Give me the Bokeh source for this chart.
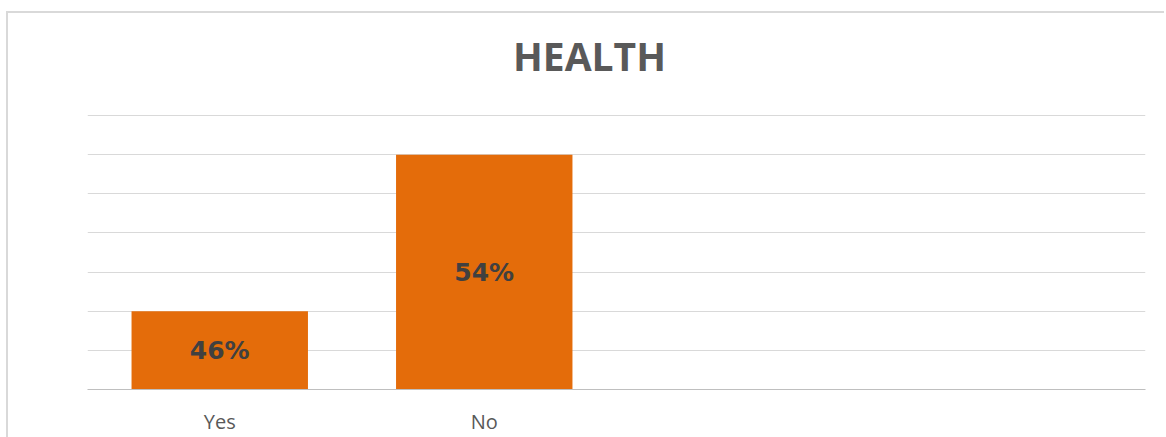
from bokeh.plotting import figure
from bokeh.models import FixedTicker, ColumnDataSource, FactorRange, Range1d, Label
from bokeh.embed import file_html
from bokeh.resources import INLINE
from bokeh.core.properties import value

categories = ["Yes", "No"]
shares = [0.46, 0.54]
labels = ["46%", "54%"]
placeholders = [" ", "  "]
y_ticks = [0.42, 0.44, 0.46, 0.48, 0.50, 0.52, 0.54, 0.56]
title_text = "HEALTH"

base = y_ticks[0]
px_per_unit = 274 / (y_ticks[-1] - y_ticks[0])   # vertical scale of the gridded area
frame_h = 369                                      # frame also holds the title area
src = ColumnDataSource(dict(
    cat=categories,
    top=shares,
    mid=[(base + v) / 2 for v in shares],
    lab=labels,
))

p = figure(
    x_range=FactorRange(*(categories + placeholders), range_padding=0),
    y_range=Range1d(base, base + frame_h / px_per_unit),
    frame_width=1058, frame_height=frame_h,
    output_backend="svg", toolbar_location=None,
    min_border_left=79, min_border_right=19, min_border_top=7, min_border_bottom=38,
    background_fill_color="white", border_fill_color="white",
    styles={"margin-left": "6px", "margin-top": "11px",
            "border-left": "2px solid #d9d9d9", "border-top": "2px solid #d9d9d9"},
)
p.outline_line_color = None

# chart title, drawn in the empty band above the gridlines
title = Label(x=1.898, y=base + (389 - 55) / px_per_unit, text=title_text,
              text_font="Open Sans", text_font_style="bold", text_font_size="39px",
              text_color="#595959", text_align="center", text_baseline="middle")
p.add_layout(title)

p.vbar(x="cat", top="top", bottom=base, width=0.667, source=src,
       fill_color="#E46C0A", line_color=None)
p.text(x="cat", y="mid", text="lab", source=src,
       text_font=value("DejaVu Sans"), text_font_style="bold",
       text_font_size="25px", text_color="#404040",
       text_align="center", text_baseline="middle")

p.yaxis.visible = False
p.ygrid.ticker = FixedTicker(ticks=y_ticks)
p.ygrid.grid_line_color = "#d9d9d9"
p.xgrid.grid_line_color = None

ax = p.xaxis[0]
ax.axis_line_color = "#bfbfbf"
ax.major_tick_line_color = None
ax.minor_tick_line_color = None
ax.major_label_text_font = "Open Sans"
ax.major_label_text_font_size = "20px"
ax.major_label_text_color = "#595959"
ax.major_label_standoff = 12

open("out.html", "w").write(file_html(p, INLINE))
